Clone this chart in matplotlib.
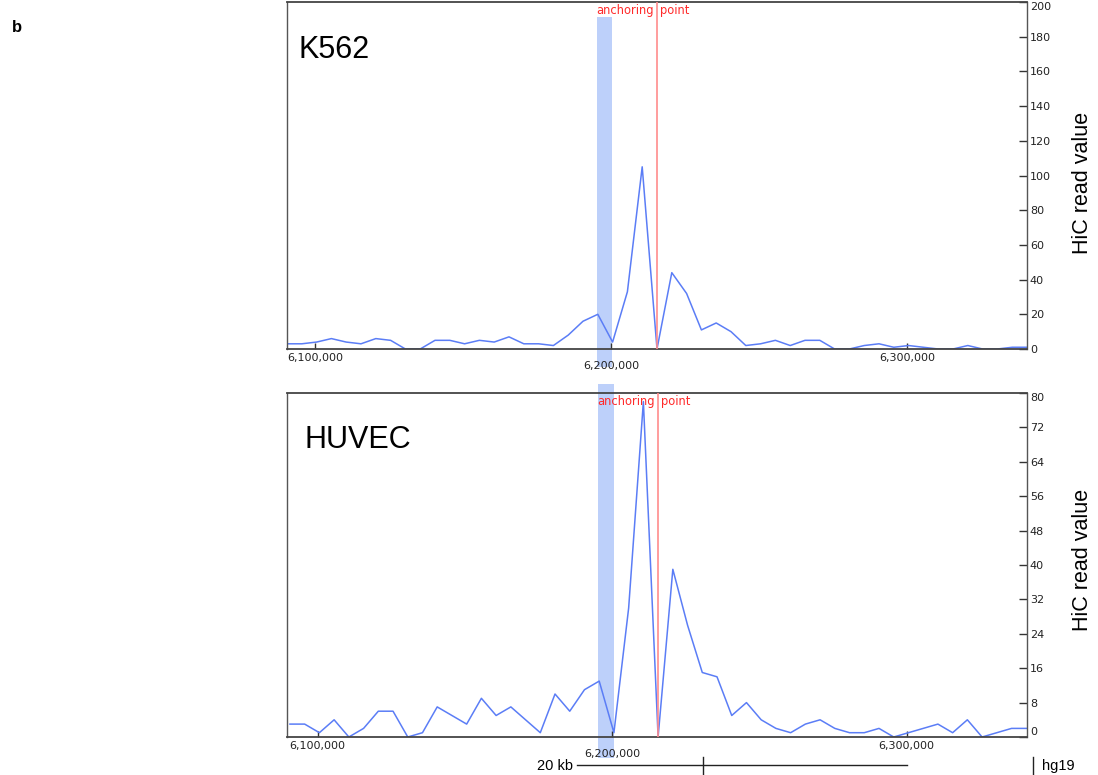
import numpy as np
import matplotlib
matplotlib.use("Agg")
import matplotlib.pyplot as plt
from matplotlib.patches import Rectangle
from matplotlib.lines import Line2D

# ── Datos ──────────────────────────────────────────────────────────────────
anchor = 6_215_600                      # anchoring point (bp)
bins = np.arange(anchor - 125_000, anchor + 125_001, 5_000)   # 5 kb bins
shade = (6_195_200, 6_200_500)          # highlighted bin

k562 = [3, 3, 4, 6, 4, 3, 6, 5, 0, 0, 5, 5, 3, 5, 4, 7, 3, 3, 2, 8, 16, 20,
        4, 33, 105, 0,
        44, 32, 11, 15, 10, 2, 3, 5, 2, 5, 5, 0, 0, 2, 3, 1, 2, 1, 0, 0, 2, 0, 0, 1, 1]
huvec = [3, 3, 1, 4, 0, 2, 6, 6, 0, 1, 7, 5, 3, 9, 5, 7, 4, 1, 10, 6, 11, 13, 1,
         30, 78, 0,
         39, 26, 15, 14, 5, 8, 4, 2, 1, 3, 4, 2, 1, 1, 2, 0, 1, 2, 3, 1, 4, 0, 1, 2, 2]

xticks = [6_100_000, 6_200_000, 6_300_000]
xtick_labels = ["6,100,000", "6,200,000", "6,300,000"]

panels = [
    dict(name="K562", values=k562, yticks=np.arange(0, 201, 20), ylim=(0, 200),
         xlim=(6_090_600, 6_340_600), shade_y=(-0.052, 0.957)),
    dict(name="HUVEC", values=huvec, yticks=np.arange(0, 81, 8), ylim=(0, 80),
         xlim=(6_089_600, 6_340_850), shade_y=(-0.061, 1.026)),
]

# ── Estilo ─────────────────────────────────────────────────────────────────
LINE_CLR = "#5b7df6"
ANCHOR_CLR = "#ff8c8c"
SHADE_CLR = "#bdd0fa"
SPINE_CLR = "#555555"
HEAD_FONT = "Liberation Sans"

W, H = 1098, 775
fig = plt.figure(figsize=(W / 100, H / 100), dpi=100, facecolor="white")

def fx(px):
    return px / W

def fy(py):
    return 1 - py / H

ax_top = fig.add_axes([fx(287), fy(349), fx(740), 347 / H])
ax_bot = fig.add_axes([fx(287), fy(737), fx(740), 344 / H])

for ax, p in zip([ax_top, ax_bot], panels):
    ax.plot(bins, p["values"], color=LINE_CLR, lw=1.1, zorder=2)
    ax.axvline(anchor, color=ANCHOR_CLR, lw=1.2, zorder=3)
    ax.set_xlim(*p["xlim"])
    ax.set_ylim(*p["ylim"])

    # bin resaltado (sale fuera del eje)
    y0, y1 = p["shade_y"]
    ax.add_patch(Rectangle((shade[0], y0), shade[1] - shade[0], y1 - y0,
                           transform=ax.get_xaxis_transform(), clip_on=False,
                           facecolor=SHADE_CLR, lw=0, zorder=0.5))

    for sp in ax.spines.values():
        sp.set_color(SPINE_CLR)
        sp.set_linewidth(1.0)
    ax.spines["bottom"].set_color("#444444")
    ax.spines["bottom"].set_linewidth(1.3)
    ax.spines["top"].set_color("#444444")
    ax.spines["top"].set_linewidth(1.3)

    ax.set_xticks(xticks)
    ax.set_xticklabels(xtick_labels)
    ax.tick_params(axis="x", direction="in", length=4, width=1, color="#333333",
                   labelsize=8, pad=3, labelcolor="#222222")
    ax.xaxis.get_major_ticks()[1].set_pad(9)

    ax.yaxis.tick_right()
    ax.set_yticks(p["yticks"])
    ax.tick_params(axis="y", direction="in", length=6, width=1, color="#333333",
                   labelsize=8, pad=2, labelcolor="#222222")
    ylabels = ax.get_yticklabels()
    ylabels[-1].set_verticalalignment("top")

    ax.text(0.016 if p["name"] == "K562" else 0.024, 0.84, p["name"],
            transform=ax.transAxes, fontsize=22, family=HEAD_FONT,
            va="baseline", ha="left")

    ax.annotate("anchoring", xy=(anchor, 0.975), xycoords=("data", "axes fraction"),
                xytext=(-2.5, 0), textcoords="offset points", ha="right", va="center",
                fontsize=8.3, color="#ff2a2a")
    ax.annotate("point", xy=(anchor, 0.975), xycoords=("data", "axes fraction"),
                xytext=(2.0, 0), textcoords="offset points", ha="left", va="center",
                fontsize=8.3, color="#ff2a2a")

ax_bot.get_yticklabels()[0].set_verticalalignment("bottom")

# etiquetas del eje y (a la derecha)
fig.text(fx(1082), fy(183), "HiC read value", rotation=90, ha="center", va="center",
         fontsize=15.5, family=HEAD_FONT)
fig.text(fx(1082), fy(560), "HiC read value", rotation=90, ha="center", va="center",
         fontsize=15.5, family=HEAD_FONT)

# letra del panel
fig.text(fx(12), fy(32), "b", fontsize=12, fontweight="bold", family=HEAD_FONT,
         va="baseline", ha="left")

# barra de escala
fig.text(fx(573), fy(766), "20 kb", fontsize=10.5, family=HEAD_FONT, ha="right", va="center")
fig.add_artist(Line2D([fx(577), fx(907)], [fy(765), fy(765)], color="#222222", lw=1,
                      transform=fig.transFigure))
fig.add_artist(Line2D([fx(703), fx(703)], [fy(757), fy(774)], color="#222222", lw=1,
                      transform=fig.transFigure))
fig.add_artist(Line2D([fx(1033), fx(1033)], [fy(757), fy(774)], color="#222222", lw=1,
                      transform=fig.transFigure))
fig.text(fx(1042), fy(766), "hg19", fontsize=10.5, family=HEAD_FONT, ha="left", va="center")

fig.savefig("out.png", dpi=100)
